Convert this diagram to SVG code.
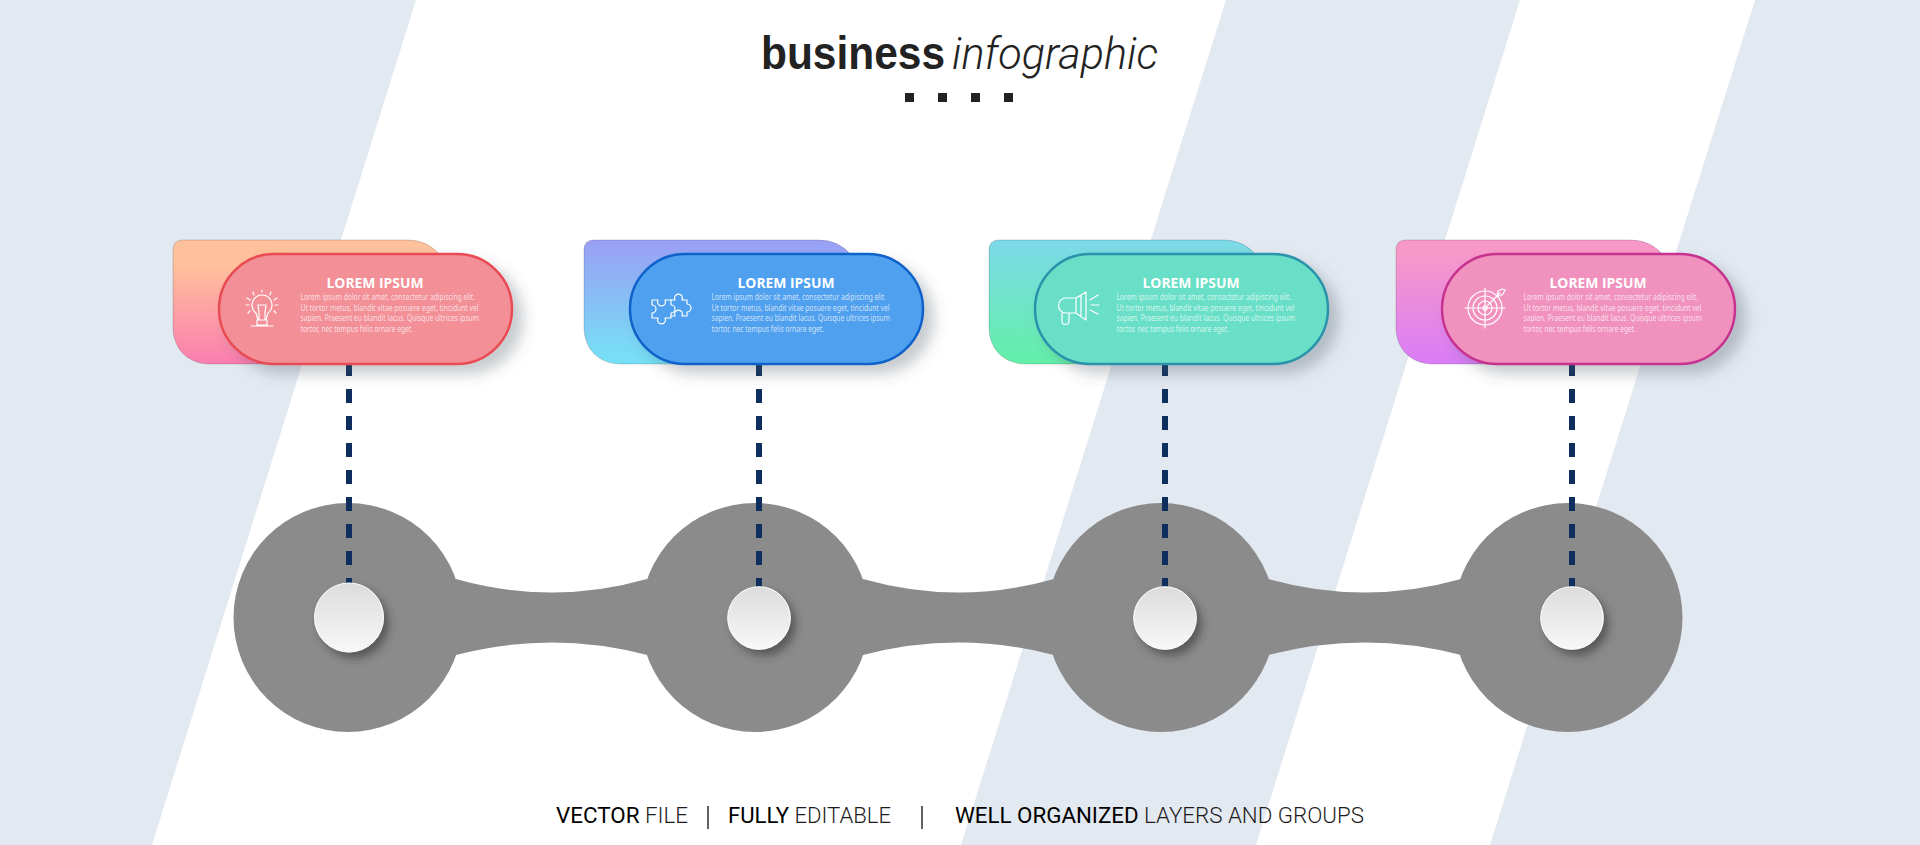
<svg xmlns="http://www.w3.org/2000/svg" width="1920" height="845" viewBox="0 0 1920 845">
<style>
.hub{fill:#8b8b8b}
.band{fill:#8b8b8b}
.dash{stroke:#0e2f5e;stroke-width:6;stroke-dasharray:14 13;fill:none}
.back{stroke:#000;stroke-opacity:.16;stroke-width:1}
.front{stroke-width:2.5;filter:url(#cardShadow)}
.t{font-family:"Open Sans","Liberation Sans",sans-serif;font-weight:700;font-size:14.5px;fill:#fff}
.b{font-family:"Noto Sans","Liberation Sans",sans-serif;font-size:8.2px;fill:#fff;fill-opacity:.72}
.ic{fill:none;stroke:#fff;stroke-width:1.2;stroke-linecap:round;stroke-linejoin:round}
.pin{fill:url(#pinG);stroke:#fff;stroke-width:1;filter:url(#pinShadow)}
.foot{font-family:Roboto,"Liberation Sans",sans-serif;font-size:22px;fill:#1d1d1d;font-weight:300}
.foot .s{font-weight:400;fill:#000}
.bar{stroke:#1d1d1d;stroke-width:1.4}
.sq{fill:#222}
</style>
<defs>
<linearGradient id="g1" x1="0" y1="0" x2="0" y2="1"><stop offset="0.2" stop-color="#ffc19b"/><stop offset="1" stop-color="#fb7db0"/></linearGradient>
<linearGradient id="g2" x1="0" y1="0" x2="0" y2="1"><stop offset="0" stop-color="#9a9ff5"/><stop offset="1" stop-color="#75e2f6"/></linearGradient>
<linearGradient id="g3" x1="0" y1="0" x2="0" y2="1"><stop offset="0" stop-color="#7cd9e8"/><stop offset="1" stop-color="#63f0a8"/></linearGradient>
<linearGradient id="g4" x1="0" y1="0" x2="0" y2="1"><stop offset="0.1" stop-color="#f898c8"/><stop offset="1" stop-color="#d97cf8"/></linearGradient>
<linearGradient id="pinG" x1="0" y1="0" x2="0" y2="1"><stop offset="0" stop-color="#dcdcdc"/><stop offset="1" stop-color="#f8f8f8"/></linearGradient>
<filter id="cardShadow" x="-15%" y="-20%" width="140%" height="160%"><feDropShadow dx="10" dy="9" stdDeviation="7" flood-color="#4a5560" flood-opacity=".3"/></filter>
<filter id="pinShadow" x="-40%" y="-40%" width="190%" height="190%"><feDropShadow dx="5" dy="6" stdDeviation="4.500" flood-color="#333" flood-opacity=".55"/></filter>
<path id="backShape" d="M183 240H408Q428 240 441 256V364H210C188 364 173 349 173 327V250Q173 240 183 240Z"/>
<rect id="frontShape" x="219" y="254" width="293" height="110" rx="55"/>
<g id="copy">
<text class="t" x="326.500" y="288" textLength="97" lengthAdjust="spacingAndGlyphs">LOREM IPSUM</text>
<text class="b" x="300.500" y="300" textLength="174.500" lengthAdjust="spacingAndGlyphs">Lorem ipsum dolor sit amet, consectetur adipiscing elit.</text>
<text class="b" x="300.500" y="310.500" textLength="178" lengthAdjust="spacingAndGlyphs">Ut tortor metus, blandit vitae posuere eget, tincidunt vel</text>
<text class="b" x="300.500" y="321" textLength="178.500" lengthAdjust="spacingAndGlyphs">sapien. Praesent eu blandit lacus. Quisque ultrices ipsum</text>
<text class="b" x="300.500" y="331.500" textLength="112.500" lengthAdjust="spacingAndGlyphs">tortor, nec tempus felis ornare eget.</text>
</g>
</defs>
<rect width="1920" height="845" fill="#e3e9f1"/>
<polygon points="416,0 1226,0 961,845 152,845" fill="#fff"/>
<polygon points="1520,0 1755,0 1490,845 1256,845" fill="#fff"/>

<g id="title">
<text x="761" y="69" font-family="'Liberation Sans',Arial,sans-serif" font-weight="700" font-size="46" fill="#222" textLength="184" lengthAdjust="spacingAndGlyphs">business</text>
<text x="952" y="69" font-family="Roboto,'Liberation Sans',sans-serif" font-weight="300" font-style="italic" font-size="45" fill="#222" textLength="206" lengthAdjust="spacingAndGlyphs">infographic</text>
<rect class="sq" x="905" y="93" width="9" height="9"/><rect class="sq" x="938" y="93" width="9" height="9"/><rect class="sq" x="971" y="93" width="9" height="9"/><rect class="sq" x="1004" y="93" width="9" height="9"/>
</g>

<g id="hub-1"><circle class="hub" cx="348" cy="617.500" r="114.500"/></g>
<g id="hub-2"><circle class="hub" cx="755" cy="617.500" r="114.500"/></g>
<g id="hub-3"><circle class="hub" cx="1161" cy="617.500" r="114.500"/></g>
<g id="hub-4"><circle class="hub" cx="1568" cy="617.500" r="114.500"/></g>

<g id="connectors">
<path class="band" d="M456 579Q552 606 647 579V655Q552 630 456 655Z"/>
<path class="band" d="M863 579Q958 606 1054 579V655Q958 630 863 655Z"/>
<path class="band" d="M1268.500 579Q1365 606 1461 579V655Q1365 630 1268.500 655Z"/>
<line class="dash" x1="349" y1="362" x2="349" y2="590"/>
<line class="dash" x1="759" y1="362" x2="759" y2="590"/>
<line class="dash" x1="1165" y1="362" x2="1165" y2="590"/>
<line class="dash" x1="1572" y1="362" x2="1572" y2="590"/>
</g>

<g id="node-1">
<use href="#backShape" class="back" fill="url(#g1)"/>
<use href="#frontShape" class="front" fill="#f28f97" stroke="#e84c52"/>
<use href="#copy"/>
<g class="ic">
<path d="M256 313A10 10 0 1 1 268 313L266 320H258ZM259 313L258 305H266L265 313V320M259 313V320M257 320V325H267V320M251 326H273"/>
<path d="M262 290V292M253 292L254 295M271 292L270 295M247 298L250 300M277 298L274 300M246 305H249M275 305H278M248 313L250 311M276 313L274 311"/>
</g>
<circle class="pin" cx="349" cy="617.500" r="34.500"/>
</g>

<g id="node-2">
<g transform="translate(411 0)">
<use href="#backShape" class="back" fill="url(#g2)"/>
<use href="#frontShape" class="front" fill="#50a0ee" stroke="#0f63c9"/>
<use href="#copy"/>
</g>
<g class="ic">
<path d="M652 300H658A4 4 0 1 0 665 300H671V305A4 4 0 1 1 671 313V318H665A4 4 0 1 1 658 318H652V313A4 4 0 1 0 652 305Z"/>
<path d="M671 300H675A4 4 0 1 1 682 300H687V304A4 4 0 1 1 687 312V316H682A4 4 0 1 0 675 316H671"/>
</g>
<circle class="pin" cx="759" cy="618" r="31.300"/>
</g>

<g id="node-3">
<g transform="translate(816 0)">
<use href="#backShape" class="back" fill="url(#g3)"/>
<use href="#frontShape" class="front" fill="#68dfc6" stroke="#2a93ab"/>
<use href="#copy"/>
</g>
<g class="ic">
<path d="M1066 298H1076L1086 292V320L1076 313H1066A7.500 7.500 0 0 1 1066 298ZM1076 298V313M1081 295V317M1062 313V321A3.500 3.500 0 0 0 1069 321V313"/>
<path d="M1090 300L1098 295M1091 305H1099M1090 310L1098 314"/>
</g>
<circle class="pin" cx="1165" cy="618" r="31.300"/>
</g>

<g id="node-4">
<g transform="translate(1223 0)">
<use href="#backShape" class="back" fill="url(#g4)"/>
<use href="#frontShape" class="front" fill="#f092bd" stroke="#c5338f"/>
<use href="#copy"/>
</g>
<g class="ic">
<circle cx="1485" cy="308" r="17"/><circle cx="1485" cy="308" r="12"/><circle cx="1485" cy="308" r="7"/><circle cx="1485" cy="308" r="2"/>
<path d="M1465 308H1505M1485 288V328M1487 306L1500 293M1498 291L1502 289L1505 290L1503 294L1500 296L1497 296Z"/>
</g>
<circle class="pin" cx="1572" cy="618" r="31.300"/>
</g>

<g id="footer">
<text class="foot" x="556" y="823" textLength="132" lengthAdjust="spacingAndGlyphs"><tspan class="s">VECTOR</tspan> FILE</text>
<line class="bar" x1="708" y1="806" x2="708" y2="829"/>
<text class="foot" x="728" y="823" textLength="163" lengthAdjust="spacingAndGlyphs"><tspan class="s">FULLY</tspan> EDITABLE</text>
<line class="bar" x1="922" y1="806" x2="922" y2="829"/>
<text class="foot" x="955" y="823" textLength="409" lengthAdjust="spacingAndGlyphs"><tspan class="s">WELL ORGANIZED</tspan> LAYERS AND GROUPS</text>
</g>
</svg>
